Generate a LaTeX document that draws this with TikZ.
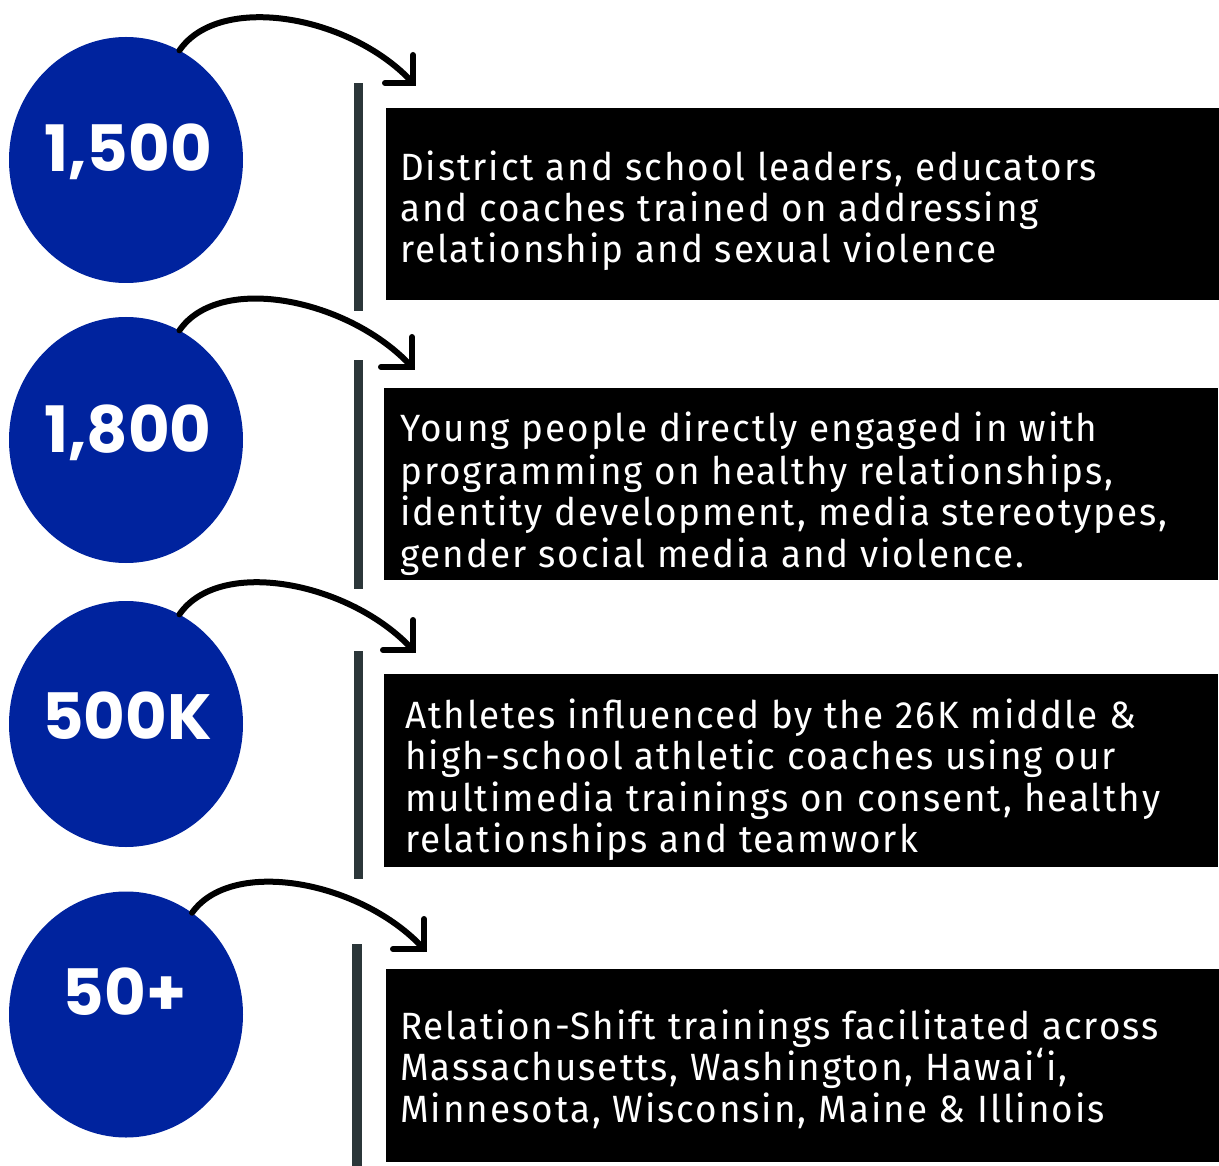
\documentclass[tikz,border=0pt]{standalone}
\usepackage{fontspec}
\setmainfont{Fira Sans}[FakeStretch=0.97,LetterSpace=5.2]
\newfontfamily\numfont{Poppins}
\usetikzlibrary{shapes.geometric,calc}
\definecolor{dotblue}{RGB}{0,35,158}
\definecolor{barcol}{RGB}{43,54,57}
\tikzset{
  dot/.style={ellipse, fill=dotblue, minimum width=234pt, minimum height=246pt, inner sep=0pt},
  num/.style={anchor=base, text=white, inner sep=0pt, font=\numfont\bfseries\fontsize{64}{64}\selectfont},
  blackbox/.style={rectangle, fill=black, anchor=north west, inner sep=0pt, minimum width=834pt},
  bartype/.style={fill=barcol},
  curvearr/.style={line width=6pt, line cap=round, line join=round},
  headarr/.style={line width=6pt, line cap=round, line join=miter},
  ln/.style={anchor=base west, text=white, inner sep=0pt, font=\fontsize{38}{41}\selectfont},
}
\begin{document}
\begin{tikzpicture}[x=1pt,y=-1pt]
\useasboundingbox[fill=white] (0,0) rectangle (1219,1166);

% circles
\node[dot] (c1) at (126,160) {};
\node[dot] (c2) at (126,440) {};
\node[dot] (c3) at (126,724) {};
\node[dot] (c4) at (126,1014.5) {};

\node[num] (n1) at (128,172) {1,500};
\node[num] (n2) at (128,452) {1,800};
\node[num] (n3) at (127,739) {500K};
\node[num] (n4) at (124.5,1015) {50+};

% bars
\fill[bartype] (354,83) rectangle (363,311);
\fill[bartype] (354,360) rectangle (363,589);
\fill[bartype] (354,651) rectangle (363,879);
\fill[bartype] (352,944) rectangle (362,1166);

% boxes
\node[blackbox, minimum height=192pt] (b1) at (386,108) {};
\node[blackbox, minimum height=192pt] (b2) at (384,388) {};
\node[blackbox, minimum height=193pt] (b3) at (384,674) {};
\node[blackbox, minimum height=193pt] (b4) at (386,969) {};

% arrow tips
\coordinate (t1) at (413,83);
\coordinate (t2) at (412,367);
\coordinate (t3) at (413,650);
\coordinate (t4) at (424,949);

\draw[curvearr] (c1.64) .. controls +(40,-58) and +(-62,-68) .. (t1);
\draw[curvearr] (c2.64.7) .. controls +(40,-58) and +(-62,-68) .. (t2);
\draw[curvearr] (c3.64) .. controls +(40,-58) and +(-62,-68) .. (t3);
\draw[curvearr] (c4.57.5) .. controls +(40,-56) and +(-62,-68) .. (t4);

\draw[headarr] ($(t1)+(0,-28)$) -- (t1) -- ($(t1)+(-28,0)$);
\draw[headarr] ($(t2)+(0,-30)$) -- (t2) -- ($(t2)+(-31,0)$);
\draw[headarr] ($(t3)+(0,-30)$) -- (t3) -- ($(t3)+(-30,0)$);
\draw[headarr] ($(t4)+(0,-30)$) -- (t4) -- ($(t4)+(-31,0)$);

% texts
\node[ln] (l11) at (400,181) {District and school leaders, educators};
\node[ln] (l12) at (400,222) {and coaches trained on addressing};
\node[ln] (l13) at (400,263) {relationship and sexual violence};

\node[ln] (l21) at (400,442) {Young people directly engaged in with};
\node[ln] (l22) at (400,484) {programming on healthy relationships,};
\node[ln] (l23) at (400,525) {identity development, media stereotypes,};
\node[ln] (l24) at (400,567) {gender social media and violence.};

\node[ln] (l31) at (405,728) {Athletes influenced by the 26K middle \&};
\node[ln] (l32) at (405,769) {high-school athletic coaches using our};
\node[ln] (l33) at (405,811) {multimedia trainings on consent, healthy};
\node[ln] (l34) at (405,852) {relationships and teamwork};

\node[ln] (l41) at (400,1039) {Relation-Shift trainings facilitated across};
\node[ln] (l42) at (400,1080) {Massachusetts, Washington, Hawai\char"02BB i,};
\node[ln] (l43) at (400,1122) {Minnesota, Wisconsin, Maine \& Illinois};
\end{tikzpicture}
\end{document}
